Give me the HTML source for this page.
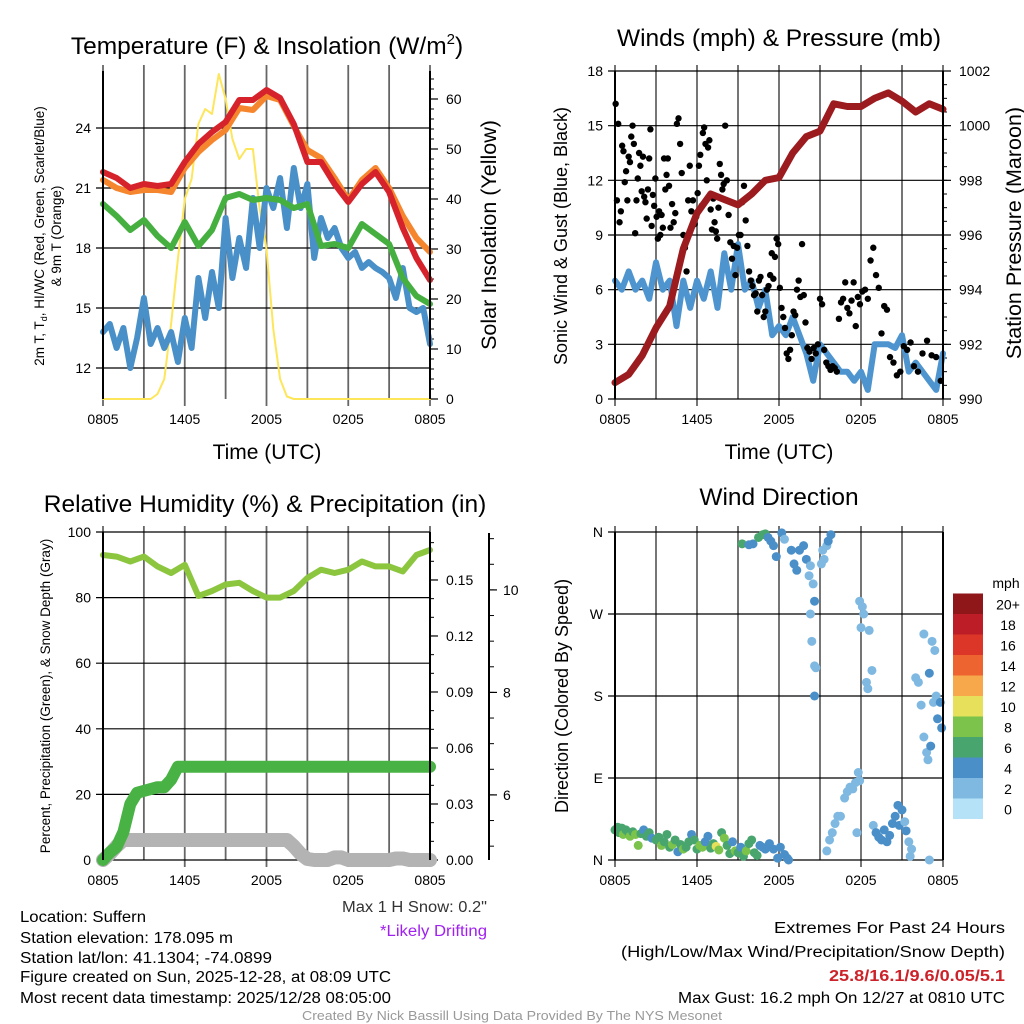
<!DOCTYPE html>
<html><head><meta charset="utf-8"><style>
html,body{margin:0;padding:0;background:#fff;}
svg{display:block;font-family:"Liberation Sans",sans-serif;}
.n{font-family:"Liberation Sans Narrow","Liberation Sans",sans-serif;}
</style></head><body>
<svg id="chart" width="1024" height="1024" viewBox="0 0 1024 1024" xmlns="http://www.w3.org/2000/svg">
<rect width="1024" height="1024" fill="#fff"/>
<text x="267" y="54" font-size="24.5" text-anchor="middle">Temperature (F) &amp; Insolation (W/m<tspan font-size="15" dy="-10">2</tspan><tspan dy="10">)</tspan></text>
<text x="779" y="46" font-size="24.5" text-anchor="middle">Winds (mph) &amp; Pressure (mb)</text>
<text x="265" y="512" font-size="24.5" text-anchor="middle">Relative Humidity (%) &amp; Precipitation (in)</text>
<text x="779" y="505" font-size="24.5" text-anchor="middle">Wind Direction</text>
<text x="267" y="459" font-size="21" text-anchor="middle">Time (UTC)</text>
<text x="779" y="459" font-size="21" text-anchor="middle">Time (UTC)</text>
<text transform="translate(44,236) rotate(-90)" font-size="13.5" text-anchor="middle">2m T, T<tspan font-size="9" dy="3">d</tspan><tspan dy="-3">, HI/WC (Red, Green, Scarlet/Blue)</tspan></text>
<text transform="translate(61,236) rotate(-90)" font-size="13.5" text-anchor="middle">&amp; 9m T (Orange)</text>
<text transform="translate(496,235) rotate(-90)" font-size="21.5" text-anchor="middle">Solar Insolation (Yellow)</text>
<text transform="translate(567,236) rotate(-90)" font-size="18" text-anchor="middle">Sonic Wind &amp; Gust (Blue, Black)</text>
<text transform="translate(1021,233) rotate(-90)" font-size="21.5" text-anchor="middle">Station Pressure (Maroon)</text>
<text transform="translate(50,696) rotate(-90)" font-size="13.5" text-anchor="middle">Percent, Precipitation (Green), &amp; Snow Depth (Gray)</text>
<text transform="translate(568,696) rotate(-90)" font-size="18" text-anchor="middle">Direction (Colored By Speed)</text>
<g id="layer"></g>
<g class="n" font-size="15.5">
<text x="487" y="912" text-anchor="end" fill="#333" textLength="145" lengthAdjust="spacingAndGlyphs">Max 1 H Snow: 0.2"</text>
<text x="487" y="936" text-anchor="end" fill="#a020f0" textLength="107" lengthAdjust="spacingAndGlyphs">*Likely Drifting</text>
<text x="20" y="922" textLength="126" lengthAdjust="spacingAndGlyphs">Location: Suffern</text>
<text x="20" y="943" textLength="213" lengthAdjust="spacingAndGlyphs">Station elevation: 178.095 m</text>
<text x="20" y="963" textLength="252" lengthAdjust="spacingAndGlyphs">Station lat/lon: 41.1304; -74.0899</text>
<text x="20" y="982" textLength="371" lengthAdjust="spacingAndGlyphs">Figure created on Sun, 2025-12-28, at 08:09 UTC</text>
<text x="20" y="1003" textLength="371" lengthAdjust="spacingAndGlyphs">Most recent data timestamp: 2025/12/28 08:05:00</text>
<text x="1005" y="933" text-anchor="end" textLength="231" lengthAdjust="spacingAndGlyphs">Extremes For Past 24 Hours</text>
<text x="1005" y="957" text-anchor="end" textLength="384" lengthAdjust="spacingAndGlyphs">(High/Low/Max Wind/Precipitation/Snow Depth)</text>
<text x="1005" y="981" text-anchor="end" fill="#cc2229" font-weight="bold" textLength="176" lengthAdjust="spacingAndGlyphs">25.8/16.1/9.6/0.05/5.1</text>
<text x="1005" y="1003" text-anchor="end" textLength="327" lengthAdjust="spacingAndGlyphs">Max Gust: 16.2 mph On 12/27 at 0810 UTC</text>
<text x="512" y="1020" text-anchor="middle" fill="#999" font-size="13" textLength="420" lengthAdjust="spacingAndGlyphs">Created By Nick Bassill Using Data Provided By The NYS Mesonet</text>
</g>
</svg>
<script>
// ---- data ----
const xTickLabels = ["0805","1405","2005","0205","0805"];
const tempRed = [21.8,21.5,21.0,21.2,21.1,21.2,22.3,23.2,23.8,24.3,25.4,25.4,25.9,25.5,24.2,22.3,22.3,21.2,20.3,21.2,21.8,20.8,19.0,17.5,16.4];
const tempOrange = [21.4,21.0,20.8,20.9,20.9,20.8,22.0,22.8,23.4,23.9,25.0,24.9,25.6,25.4,24.1,22.9,22.5,21.5,20.4,21.4,22.0,21.0,19.6,18.5,17.8];
const dewGreen = [20.2,19.6,18.9,19.4,18.6,18.0,19.3,18.1,18.9,20.5,20.7,20.4,20.5,20.4,20.0,20.2,18.1,18.2,18.0,19.2,18.7,18.2,16.5,15.6,15.2];
const wcBlue = [13.8,14.2,13.0,14.0,12.0,13.5,15.5,13.2,14.0,13.0,13.8,12.3,14.5,13.0,16.5,14.5,16.8,15.0,19.5,16.5,18.5,17.0,20.5,18.0,21.0,20.0,21.5,19.0,22.0,20.0,21.2,17.5,19.5,18.5,19.0,18.0,17.5,17.8,17.0,17.3,17.0,16.8,16.5,15.5,17.0,15.0,14.8,15.0,13.2];
const insolation = [0,0,0,0,0,0,0,0,1,4,15,28,40,44,55,58,57,65,60,52,48,50,50,38,30,14,4,0.5,0,0,0,0,0,0,0,0,0,0,0,0,0,0,0,0,0,0,0,0,0];
const tempTicks = [12,15,18,21,24];
const insTicks = [0,10,20,30,40,50,60];
const windSpeed = [6.5,6.0,7.0,6.0,6.5,5.5,7.5,6.0,6.5,4.0,6.5,5.0,6.5,5.5,7.0,5.0,8.0,6.0,8.5,6.0,6.5,5.0,6.0,3.5,4.0,3.5,4.5,3.5,2.5,1.0,3.0,2.5,2.0,1.5,1.5,1.0,1.5,0.5,3.0,3.0,3.0,2.8,3.5,1.5,2.0,1.5,1.0,0.5,2.5];
const pressure = [990.6,990.9,991.6,992.6,993.4,995.5,996.8,997.5,997.3,997.1,997.5,998.0,998.1,999.0,999.6,999.8,1000.8,1000.7,1000.7,1001.0,1001.2,1000.9,1000.5,1000.8,1000.6];
const gustBlockStart = [0,2,4,6,8,10,12,14,16,18,20,22];
const gustBlockValues = [
 [16.2,10.9,15.1,9.7,10.3,13.9,13.6,11.9,12.5,10.9,13.3,13.0,14.4,15.0,14.0,9.1,10.9,12.1,13.5,12.8,11.4],
 [13.3,11.1,10.8,9.9,11.5,13.2,14.8,9.5,11.2,10.6,12.1,10.0,8.8,10.3,9.0,10.1,9.4,13.2,11.5,12.3,13.2,11.7],
 [9.4,10.7,9.7,10.2,15.1,15.4,14.0,12.4,9.0,8.3,7.0,10.9,12.8,10.3,10.9,9.6,10.0],
 [11.3,12.8,13.4,10.6,14.6,14.9,14.0,12.0,13.8,14.2,10.4,9.3,11.0,9.7,9.2,8.8,10.5,12.9,12.3,11.5,11.8],
 [15.0,12.0,10.1,8.6,7.7,8.4,6.8,8.3,9.0,9.0,10.8,11.7,9.8,8.4,7.0,6.5],
 [6.2,5.7,5.8,4.8,6.5,6.7,5.7,4.5,4.8,6.0,6.2,6.8,8.0,6.6,7.8,8.8,8.5],
 [6.1,5.0,4.5,3.9,2.5,2.2,2.7,3.5,4.8,4.6,6.0,6.5,5.6,8.5,5.7,4.2],
 [2.8,2.6,2.2,2.8,2.5,3.0,5.5,5.2,2.7,2.0,1.8,1.6,1.8],
 [1.7,1.5,4.4,5.3,5.5,6.4,5.0,4.7,5.4,6.4,4.0,5.6,5.2],
 [5.9,6.0,5.5,7.6,8.3,6.8,6.1,3.6,5.1,4.9],
 [2.3,2.0,1.3,1.5,2.9,2.7,3.1,1.8],
 [1.5,2.5,3.2,2.4,2.3,1.0]];
const windTicks = [0,3,6,9,12,15,18];
const presTicks = [990,992,994,996,998,1000,1002];
const rh = [93,92.5,91,92.5,89.5,87.5,90,80.5,82,84,84.5,82,80,80,82,86,88.5,87.5,88.5,91,89.5,89.5,88,93,94.5];
const precip = [0,0.004,0.007,0.015,0.03,0.036,0.037,0.038,0.039,0.039,0.043,0.050,0.050,0.050,0.050,0.050,0.050,0.050,0.050,0.050,0.050,0.050,0.050,0.050,0.050,0.050,0.050,0.050,0.050,0.050,0.050,0.050,0.050,0.050,0.050,0.050,0.050,0.050,0.050,0.050,0.050,0.050,0.050,0.050,0.050,0.050,0.050,0.050,0.050];
const snowDepth = [4.73,4.85,5.0,5.12,5.12,5.12,5.12,5.12,5.12,5.12,5.12,5.12,5.12,5.12,5.12,5.12,5.12,5.12,5.12,5.12,5.12,5.12,5.12,5.12,5.12,5.12,5.12,5.12,5.0,4.85,4.75,4.73,4.73,4.73,4.78,4.78,4.73,4.73,4.73,4.73,4.73,4.73,4.73,4.76,4.76,4.73,4.73,4.73,4.73];
const rhTicks = [0,20,40,60,80,100];
const precipTicks = ["0.00","0.03","0.06","0.09","0.12","0.15"];
const snowTicks = [6,8,10];
const dirTime = [0.0,0.2,0.3,0.5,0.6,0.8,1.0,1.1,1.3,1.5,1.7,1.9,2.1,2.3,2.5,2.7,3.0,3.2,3.4,3.6,3.8,4.0,4.2,4.4,4.6,4.8,5.0,5.2,5.4,5.6,5.8,6.0,6.2,6.4,6.6,6.8,7.0,7.2,7.4,7.6,7.8,8.0,8.2,8.4,8.6,8.8,9.0,9.2,9.4,9.6,9.8,10.0,10.2,10.4,10.6,10.8,11.0,11.3,11.6,11.9,12.1,12.4,12.6,12.7,
 9.3,9.8,10.1,10.5,10.8,11.0,11.2,11.4,11.6,11.8,12.2,12.4,12.9,13.1,13.3,13.5,13.8,14.0,14.2,14.5,14.6,14.3,14.3,14.4,14.6,14.6,14.7,
 15.1,15.3,15.5,15.6,15.8,15.2,15.5,15.7,15.9,16.1,16.3,16.5,
 16.8,17.0,17.2,17.4,17.6,17.8,17.9,17.7,17.9,18.1,18.2,18.0,18.6,18.8,18.5,18.4,
 18.9,19.1,19.3,19.5,19.7,19.9,20.1,20.3,20.5,20.7,20.8,21.0,21.2,21.3,21.5,21.7,21.6,
 22.0,22.2,22.4,22.6,22.8,22.9,23.0,23.3,23.5,23.2,23.4,23.1,23.6,23.8,23.9,23.0,22.6];
const dirDeg = [33,36,30,35,28,33,30,26,31,28,16,29,33,26,30,24,22,25,16,20,28,14,17,22,9,17,12,14,20,28,22,12,16,14,20,26,13,18,15,11,30,24,16,7,20,10,8,14,4,10,18,22,8,5,16,14,12,18,12,2,14,6,2,0,
 347,346,347,354,357,358,354,350,345,333,359,352,340,325,318,340,345,330,312,303,284,323,270,240,213,180,211,
 325,330,345,350,357,340,10,22,30,40,48,48,
 68,75,80,78,85,96,87,30,284,278,270,255,252,208,188,195,
 38,30,25,22,33,20,27,40,48,60,38,55,42,32,20,12,4,
 200,195,170,135,118,110,205,173,180,240,230,125,155,173,145,0,248];
const dirSpeed = [6,6,6,6,8,6,6,8,6,8,8,6,4,6,6,4,6,6,8,6,6,6,8,6,4,6,8,6,6,4,6,6,8,8,4,4,6,6,10,8,6,8,6,6,4,8,6,4,6,8,6,6,6,6,4,4,4,4,4,4,4,4,4,4,
 6,4,4,6,6,6,4,4,4,4,4,2,4,4,4,4,4,4,2,2,4,2,2,2,2,4,2,
 2,2,2,4,4,2,2,2,2,2,2,2,
 2,2,2,2,2,2,2,2,2,2,2,2,2,2,2,2,
 2,4,4,4,4,4,4,4,4,4,4,4,2,4,2,2,2,
 2,2,2,2,2,2,4,2,2,2,2,4,4,4,4,2,2];
const dirTicks = ["N","E","S","W","N"];
const speedBins = ["0","2","4","6","8","10","12","14","16","18","20+"];
const binColors = ["#b5e2f7","#7fb9e2","#4a8fc8","#48a56e","#7bc34b","#e6e05a","#f6a84a","#ee6431","#dc3628","#bd1d26","#8f1619"];

// ---- helpers ----
const NS="http://www.w3.org/2000/svg";
const layer=document.getElementById('layer');
function mk(tag,attrs,par){const e=document.createElementNS(NS,tag);for(const k in attrs)e.setAttribute(k,attrs[k]);(par||layer).appendChild(e);return e;}
function xs(p,h){return p.x0+h/24*(p.x1-p.x0);}
function ys(p,lo,hi,v){return p.y1-(v-lo)/(hi-lo)*(p.y1-p.y0);}
function pathD(p,lo,hi,vals,step){let d="";vals.forEach((v,i)=>{d+=(i?"L":"M")+xs(p,i*step).toFixed(1)+","+ys(p,lo,hi,v).toFixed(1);});return d;}

const P1={x0:103,x1:430,y0:71,y1:399}, P2={x0:615,x1:943,y0:71,y1:399}, P3={x0:103,x1:430,y0:532,y1:860}, P4={x0:615,x1:943,y0:532,y1:860};

function frame(p,name){
  let e;
  for(let k=0;k<=8;k++){
    const x=xs(p,k*3);
    e=mk('line',{x1:x,x2:x,y1:p.y0-6,y2:p.y1+(k%2?0:7),stroke:'#666','stroke-width':1.8});
    
    
  }
  xTickLabels.forEach((t,i)=>{
    e=mk('text',{x:xs(p,i*6),y:p.y1+25,'font-size':14,'text-anchor':'middle'});e.textContent=t;
    
    
  });
}
function hgrid(p,name,lo,hi,ticks,labels){
  let e;
  ticks.forEach((v,i)=>{
    const y=ys(p,lo,hi,v);
    e=mk('line',{x1:p.x0-7,x2:p.x1,y1:y,y2:y,stroke:'#000','stroke-width':1.2});
    
    
    e=mk('text',{x:p.x0-12,y:y+5,'font-size':14,'text-anchor':'end'});e.textContent=labels?labels[i]:v;
    
    
  });
}
function rightAxis(p,name,lo,hi,ticks,labels,ax,minorStep){
  let e;
  for(let v=lo;v<=hi+1e-9;v+=minorStep){
    const y=ys(p,lo,hi,v);
    e=mk('line',{x1:ax,x2:ax+4,y1:y,y2:y,stroke:'#000','stroke-width':1});
    
    
  }
  ticks.forEach((v,i)=>{
    const y=ys(p,lo,hi,v);
    e=mk('line',{x1:ax,x2:ax+8,y1:y,y2:y,stroke:'#000','stroke-width':1.2});
    
    
    e=mk('text',{x:ax+16,y:y+5,'font-size':14});e.textContent=labels?labels[i]:v;
    
    
  });
}
function border(p,name){
  let e=mk('line',{x1:p.x0,x2:p.x0,y1:p.y0,y2:p.y1,stroke:'#000','stroke-width':2});
  
  
  e=mk('line',{x1:p.x1,x2:p.x1,y1:p.y0,y2:p.y1,stroke:'#000','stroke-width':2});
  
  
}
function line(p,lo,hi,vals,step,color,w,name){
  const e=mk('path',{d:pathD(p,lo,hi,vals,step),fill:'none',stroke:color,'stroke-width':w,'stroke-linejoin':'round','stroke-linecap':'round'});
  
  
}

// ---- panel 1 ----
const T_LO=10.45,T_HI=26.85,I_LO=0,I_HI=65.6;
frame(P1,'temp');
hgrid(P1,'temp',T_LO,T_HI,tempTicks);
rightAxis(P1,'insolation',I_LO,I_HI,insTicks,null,P1.x1,2);
line(P1,I_LO,I_HI,insolation,0.5,'#fde65a',2,'insolation-line');
line(P1,T_LO,T_HI,wcBlue,0.5,'#4a90c8',6,'windchill-line');
line(P1,T_LO,T_HI,dewGreen,1,'#45b040',6,'dewpoint-line');
line(P1,T_LO,T_HI,tempOrange,1,'#f5862e',6,'temp-9m-line');
line(P1,T_LO,T_HI,tempRed,1,'#d6222b',6,'temp-2m-line');
border(P1,'temp');

// ---- panel 2 ----
frame(P2,'wind');
hgrid(P2,'wind',0,18,windTicks);
rightAxis(P2,'pressure',990,1002,presTicks,null,P2.x1,0.5);
line(P2,0,18,windSpeed,0.5,'#4e95d0',6,'sonic-wind-line');
gustBlockValues.forEach((vals,b)=>{
  vals.forEach((v,i)=>{
    const t=gustBlockStart[b]+(i+0.5)*2/vals.length;
    const e=mk('circle',{cx:xs(P2,t),cy:ys(P2,0,18,v),r:3.2,fill:'#000'});
    
    
  });
});
line(P2,990,1002,pressure,1,'#9b1b1e',7,'pressure-line');
border(P2,'wind');

// ---- panel 3 ----
const PR_HI=0.1757,S_LO=4.73,S_HI=11.13;
frame(P3,'humidity');
hgrid(P3,'humidity',0,100,rhTicks);
rightAxis(P3,'precip',0,PR_HI,precipTicks.map(Number),precipTicks,P3.x1,0.01);
{ let e=mk('line',{x1:489,x2:489,y1:533,y2:860,stroke:'#000','stroke-width':2});
  
   }
{ let e; for(let v=5;v<=11;v+=0.5){const y=ys(P3,S_LO,S_HI,v);
  e=mk('line',{x1:489,x2:494,y1:y,y2:y,stroke:'#000','stroke-width':1});
  
  }
  snowTicks.forEach(v=>{const y=ys(P3,S_LO,S_HI,v);
  e=mk('line',{x1:489,x2:497,y1:y,y2:y,stroke:'#000','stroke-width':1.2});
  
  
  e=mk('text',{x:503,y:y+5,'font-size':14});e.textContent=v;
  
  }); }
line(P3,S_LO,S_HI,snowDepth,0.5,'#b3b3b3',14,'snow-depth-line');
line(P3,0,PR_HI,precip,0.5,'#48b244',12,'precip-line');
line(P3,0,100,rh,1,'#8cc63f',6,'humidity-line');
border(P3,'humidity');

// ---- panel 4 ----
frame(P4,'direction');
hgrid(P4,'direction',0,360,[0,90,180,270,360],dirTicks);
dirTime.forEach((t,i)=>{
  const bin=Math.min(10,Math.round(dirSpeed[i]/2));
  const e=mk('circle',{cx:xs(P4,t),cy:ys(P4,0,360,dirDeg[i]),r:4.5,fill:binColors[bin]});
  
  
});
border(P4,'direction');
{ let e=mk('text',{x:1006,y:588,'font-size':14,'text-anchor':'middle'});e.textContent='mph';
  
  
  speedBins.forEach((lab,i)=>{
    const y=819-(i+1)*20.5;
    e=mk('rect',{x:953,y:y,width:30,height:20.5,fill:binColors[i]});
    
    
    e=mk('text',{x:1008,y:y+16,'font-size':14,'text-anchor':'middle'});e.textContent=lab;
    
    
  }); }
</script>
</body></html>
